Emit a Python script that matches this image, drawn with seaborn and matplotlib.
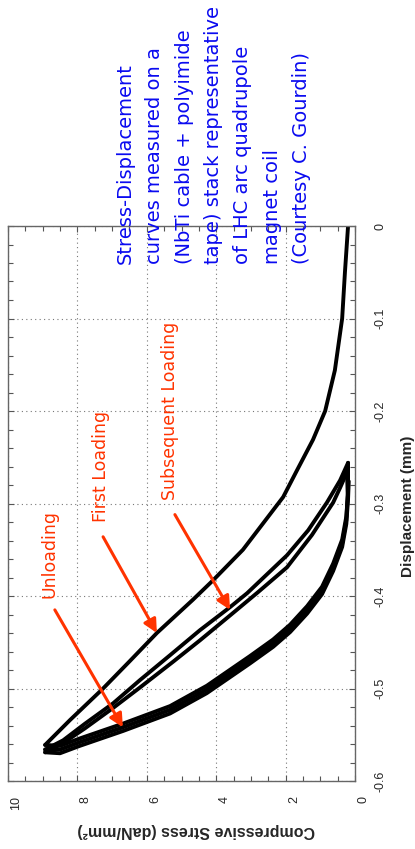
import matplotlib
matplotlib.use("Agg")
import matplotlib.pyplot as plt
from matplotlib.ticker import MultipleLocator, FuncFormatter
from matplotlib.transforms import ScaledTranslation
import seaborn as sns
import pandas as pd

# Compressive stress (daN/mm^2) vs displacement (mm) for each branch of the cycle
first_loading_stress = [0.20, 0.29, 0.37, 0.58, 0.86, 1.21, 1.67, 2.07, 2.68, 3.23,
                        4.09, 4.67, 5.71, 6.48, 7.26, 8.21, 8.93]
first_loading_disp = [0.000, -0.050, -0.100, -0.156, -0.200, -0.231, -0.264, -0.293,
                      -0.323, -0.350, -0.383, -0.404, -0.440, -0.470, -0.500, -0.534, -0.561]

unloading1_stress = [8.93, 8.50, 7.93, 6.69, 5.33, 4.27, 3.03, 2.36, 1.87, 1.38,
                     0.95, 0.63, 0.37, 0.25, 0.20, 0.20]
unloading1_disp = [-0.561, -0.562, -0.554, -0.538, -0.519, -0.497, -0.465, -0.447,
                   -0.431, -0.411, -0.390, -0.365, -0.339, -0.314, -0.287, -0.256]

reloading2_stress = [0.20, 0.43, 0.81, 1.35, 1.96, 3.11, 3.60, 4.47, 5.33, 6.20,
                     6.97, 7.78, 8.41, 8.93]
reloading2_disp = [-0.256, -0.275, -0.299, -0.329, -0.356, -0.397, -0.412, -0.437,
                   -0.464, -0.491, -0.516, -0.538, -0.556, -0.566]

unloading2_stress = [8.93, 8.50, 7.93, 6.69, 5.33, 4.27, 3.03, 2.36, 1.87, 1.38,
                     0.95, 0.63, 0.37, 0.25, 0.21, 0.23]
unloading2_disp = [-0.566, -0.566, -0.558, -0.542, -0.523, -0.501, -0.469, -0.451,
                   -0.435, -0.415, -0.394, -0.369, -0.343, -0.318, -0.291, -0.266]

reloading3_stress = [0.23, 0.43, 0.63, 1.24, 1.96, 2.80, 3.60, 4.47, 5.24, 6.20,
                     6.97, 7.78, 8.41, 8.93]
reloading3_disp = [-0.266, -0.283, -0.299, -0.334, -0.369, -0.396, -0.421, -0.448,
                   -0.471, -0.499, -0.521, -0.543, -0.559, -0.569]

unloading3_stress = [8.93, 8.50, 7.93, 6.69, 5.33, 4.27, 3.03, 2.36, 1.87, 1.38,
                     0.95, 0.63, 0.37, 0.25, 0.20, 0.18]
unloading3_disp = [-0.569, -0.570, -0.562, -0.546, -0.527, -0.505, -0.473, -0.455,
                   -0.439, -0.419, -0.398, -0.373, -0.347, -0.322, -0.295, -0.276]

stress_ticks = [0, 2, 4, 6, 8, 10]
disp_ticks = [0, -0.1, -0.2, -0.3, -0.4, -0.5, -0.6]

note_text = ("Stress-Displacement\ncurves measured on a\n(NbTi cable + polyimide\n"
             "tape) stack representative\nof LHC arc quadrupole\nmagnet coil\n"
             "(Courtesy C. Gourdin)")

branches = [
    ("first loading", first_loading_stress, first_loading_disp),
    ("unloading 1", unloading1_stress, unloading1_disp),
    ("reloading 2", reloading2_stress, reloading2_disp),
    ("unloading 2", unloading2_stress, unloading2_disp),
    ("reloading 3", reloading3_stress, reloading3_disp),
    ("unloading 3", unloading3_stress, unloading3_disp),
]
frames = []
for name, s, d in branches:
    part = pd.DataFrame({"stress": s, "disp": d})
    part["branch"] = name
    frames.append(part)
curves = pd.concat(frames, ignore_index=True)

sns.set_style("white")
plt.rcParams["font.family"] = ["Liberation Sans", "DejaVu Sans"]
plt.rcParams["axes.unicode_minus"] = False

W, H = 415, 849
fig = plt.figure(figsize=(W / 100, H / 100), dpi=100)
# axes frame in pixel terms: x 8..355, y 226..781
ax = fig.add_axes([8 / W, 1 - 781 / H, 347 / W, 555 / H])

sns.lineplot(data=curves, x="stress", y="disp", units="branch", estimator=None,
             sort=False, color="black", lw=2.8, ax=ax)
for line in ax.get_lines():
    line.set_solid_joinstyle("round")
    line.set_solid_capstyle("round")

ax.set_xlim(10, 0)
ax.set_ylim(-0.6, 0)
ax.set_xticks(stress_ticks)
ax.set_yticks(disp_ticks)
ax.xaxis.set_minor_locator(MultipleLocator(0.5))
ax.yaxis.set_minor_locator(MultipleLocator(0.02))
ax.xaxis.set_major_formatter(FuncFormatter(lambda v, _: f"{v:.0f}"))
ax.yaxis.set_major_formatter(FuncFormatter(lambda v, _: "0" if abs(v) < 1e-9 else f"{v:.1f}"))

ax.tick_params(which="both", direction="in", top=True, bottom=True, left=True, right=True,
               labelleft=False, labelright=True, labelbottom=True, color="#555555",
               width=0.8, labelsize=9)
ax.tick_params(which="major", length=4.5)
ax.tick_params(which="minor", length=3.5)
ax.tick_params(axis="x", labelrotation=90, pad=11)
ax.tick_params(axis="y", labelrotation=90, pad=14)
for lab in ax.get_xticklabels():
    lab.set_transform(lab.get_transform() + ScaledTranslation(6 / 72, 0, fig.dpi_scale_trans))
for lab in ax.get_yticklabels():
    lab.set_verticalalignment("center")

ax.grid(True, which="major", linestyle=(0, (1, 3)), color="#777777", lw=0.8)
ax.set_axisbelow(True)
for sp in ax.spines.values():
    sp.set_color("#666666")
    sp.set_linewidth(1.0)

ax.set_xlabel("Compressive Stress (daN/mm²)", fontsize=11.5, fontweight="bold",
              rotation=180, va="center", ha="center")
ax.xaxis.set_label_coords(0.542, -0.09)
ax.set_ylabel("Displacement (mm)", fontsize=11, fontweight="bold",
              rotation=90, va="center", ha="center")
ax.yaxis.set_label_position("right")
ax.yaxis.set_label_coords(1.132, 0.495)

red = "#ff3300"
labels = [
    ("Unloading", (8.79, -0.402), (8.65, -0.415), (6.69, -0.542)),
    ("First Loading", (7.32, -0.320), (7.26, -0.336), (5.71, -0.440)),
    ("Subsequent Loading", (5.33, -0.296), (5.19, -0.312), (3.60, -0.415)),
]
for txt, pos, start, tip in labels:
    ax.text(pos[0], pos[1], txt, rotation=90, ha="center", va="bottom", color=red,
            fontsize=12.5, family="DejaVu Sans")
    ax.annotate("", xy=tip, xytext=start,
                arrowprops=dict(arrowstyle="-|>", color=red, lw=2.2, mutation_scale=20,
                                shrinkA=0, shrinkB=0))

fig.text(116 / W, 1 - 264 / H, note_text, rotation=90, ha="left", va="bottom",
         multialignment="left", color="#0a0af0", fontsize=14, family="DejaVu Sans",
         linespacing=1.69)

fig.savefig("out.png", dpi=100)
